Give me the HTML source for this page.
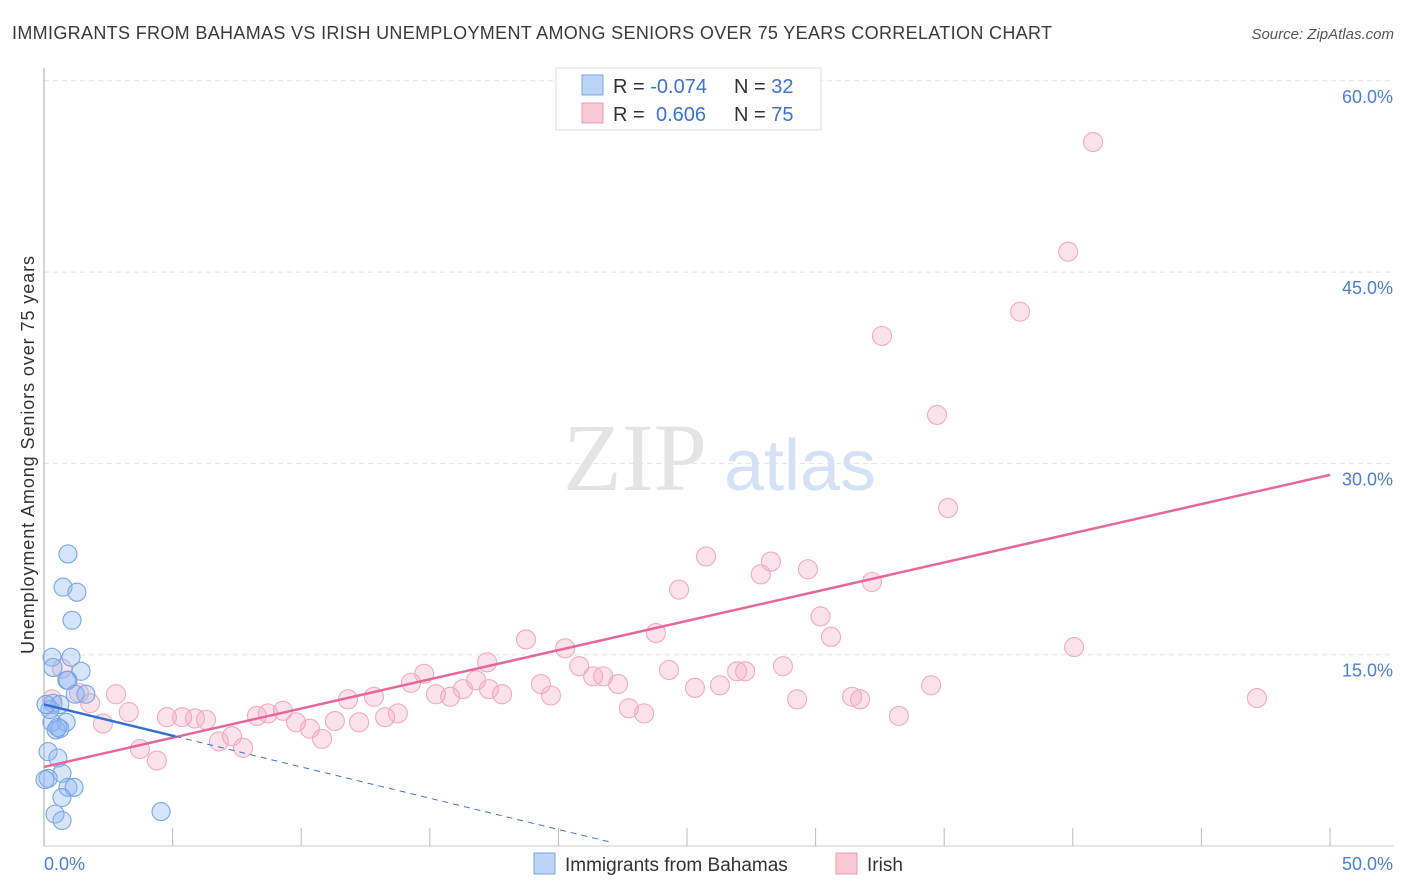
<!DOCTYPE html>
<html><head><meta charset="utf-8"><style>
body{margin:0;background:#fff;font-family:"Liberation Sans",sans-serif;}
svg{display:block}
</style></head><body>
<svg width="1406" height="892" xmlns="http://www.w3.org/2000/svg">
<text x="12" y="39" font-size="18" fill="#3a3a3a" textLength="1040" lengthAdjust="spacing">IMMIGRANTS FROM BAHAMAS VS IRISH UNEMPLOYMENT AMONG SENIORS OVER 75 YEARS CORRELATION CHART</text>
<text x="1394" y="39" font-size="15" fill="#555" font-style="italic" text-anchor="end">Source: ZipAtlas.com</text>
<g id="grid"></g>
<g><text x="635" y="490" font-size="96" fill="#e4e4e4" font-family="Liberation Serif" text-anchor="middle">ZIP</text><text x="800" y="490" font-size="72" fill="#d5e2f5" text-anchor="middle">atlas</text></g>
<line x1="44" y1="68" x2="44" y2="846" stroke="#aaa"/>
<line x1="44" y1="846" x2="1394" y2="846" stroke="#ccc"/>
<g id="xticks"></g>
<g id="ylabels"></g>
<text x="44" y="870" font-size="18" fill="#4a7fd4">0.0%</text>
<text x="1393" y="870" font-size="18" fill="#4a7fd4" text-anchor="end">50.0%</text>
<text transform="translate(34,455) rotate(-90)" font-size="18" fill="#333" text-anchor="middle" textLength="398" lengthAdjust="spacing">Unemployment Among Seniors over 75 years</text>
<g id="pink"></g>
<g id="blue"></g>
<g id="trends"></g>
<g>
<rect x="556" y="68" width="265" height="62" fill="#fff" stroke="#ddd"/>
<rect x="582" y="75" width="21" height="20" fill="#bcd4f6" stroke="#7aa6e6"/>
<rect x="582" y="103" width="21" height="20" fill="#fbc8d6" stroke="#ef9ab3"/>
<text x="613" y="93" font-size="20" fill="#333">R = <tspan fill="#3b74d0">-0.074</tspan><tspan x="734">N = </tspan><tspan fill="#3b74d0">32</tspan></text>
<text x="613" y="121" font-size="20" fill="#333">R = <tspan x="656" fill="#3b74d0">0.606</tspan><tspan x="734">N = </tspan><tspan fill="#3b74d0">75</tspan></text>
</g>
<g>
<rect x="534" y="853" width="21" height="21" fill="#bcd4f6" stroke="#7aa6e6"/>
<text x="565" y="871" font-size="19" fill="#333">Immigrants from Bahamas</text>
<rect x="836" y="853" width="21" height="21" fill="#fbc8d6" stroke="#ef9ab3"/>
<text x="867" y="871" font-size="19" fill="#333">Irish</text>
</g>
</svg>
<script>
const yTicks=[15,30,45,60];
const yTickLabels=["15.0%","30.0%","45.0%","60.0%"];
const xTicks=[5,10,15,20,25,30,35,40,45,50];
const blueX=[0.93,0.74,1.28,1.09,0.31,1.05,0.35,1.44,0.93,0.89,1.21,1.63,0.35,0.62,0.31,0.86,0.47,0.62,0.16,0.54,0.70,0.16,0.93,1.17,0.70,0.43,0.70,4.55,0.23,0.08,0.54,0.04];
const blueY=[22.9,20.3,19.9,17.7,14.8,14.8,14.0,13.7,13.0,13.0,11.9,11.9,11.2,11.1,9.7,9.7,9.1,9.2,7.4,6.9,5.7,5.3,4.6,4.6,3.8,2.5,2.0,2.7,10.7,11.1,9.3,5.2];
const pinkX=[40.79,39.82,37.95,32.58,34.72,35.15,25.74,28.26,27.87,29.70,32.19,24.69,30.19,18.74,30.60,23.79,20.26,40.05,17.23,20.81,28.73,24.3,26.95,27.26,14.78,21.35,21.74,16.8,14.27,19.32,22.32,16.29,17.30,26.28,25.31,34.49,15.24,15.79,17.81,19.71,12.83,11.82,31.42,31.73,29.28,47.16,22.74,23.33,2.80,1.79,0.31,0.70,1.36,3.30,13.76,13.26,9.29,8.71,8.28,33.24,4.78,5.37,5.87,6.30,9.80,11.31,12.25,10.34,2.29,7.31,6.80,10.81,7.74,3.73,4.39];
const pinkY=[55.2,46.6,41.9,40.0,33.8,26.5,22.7,22.3,21.3,21.7,20.7,20.1,18.0,16.2,16.4,16.7,15.5,15.6,14.4,14.1,14.1,13.8,13.7,13.7,13.5,13.3,13.3,13.0,12.8,12.7,12.7,12.3,12.3,12.6,12.4,12.6,11.9,11.7,11.9,11.8,11.7,11.5,11.7,11.5,11.5,11.6,10.8,10.4,11.9,11.2,11.5,13.9,12.0,10.5,10.4,10.1,10.6,10.4,10.2,10.2,10.1,10.1,10.0,9.9,9.7,9.8,9.7,9.2,9.6,8.6,8.2,8.4,7.7,7.6,6.7];
const pinkTrend=[6.2,29.1];
const blueTrend=[11.1,8.6,5.1,22];
const NS="http://www.w3.org/2000/svg";
const xs=v=>44+v/50*1286, ys=v=>846-v/15*191.3;
function mk(t,a,p){const e=document.createElementNS(NS,t);for(const k in a)e.setAttribute(k,a[k]);p.appendChild(e);return e;}
const grid=document.getElementById('grid'),yl=document.getElementById('ylabels'),xt=document.getElementById('xticks');
yTicks.forEach((v,i)=>{
 const l=mk('line',{x1:44,x2:1394,y1:ys(v),y2:ys(v),stroke:'#e2e2e2','stroke-dasharray':'5,4'},grid);
 
 
 const t=mk('text',{x:1393,y:ys(v)+22,'font-size':18,fill:'#4a7fd4','text-anchor':'end'},yl);
 t.textContent=yTickLabels[i];
 
 
});
xTicks.forEach(v=>{
 const l=mk('line',{x1:xs(v),x2:xs(v),y1:828,y2:846,stroke:'#bbb'},xt);
 
 
});
const pg=document.getElementById('pink');
pinkX.forEach((x,i)=>{
 const c=mk('circle',{cx:xs(x),cy:ys(pinkY[i]),r:9.5,fill:'rgba(246,168,192,0.32)',stroke:'#f2a9bf','stroke-width':1.1},pg);
 
 
});
const bg=document.getElementById('blue');
blueX.forEach((x,i)=>{
 const c=mk('circle',{cx:xs(x),cy:ys(blueY[i]),r:9,fill:'rgba(140,180,240,0.35)',stroke:'#78a6e8','stroke-width':1.1},bg);
 
 
});
const tg=document.getElementById('trends');
const slope=(blueTrend[1]-blueTrend[0])/blueTrend[2];
const l1=mk('line',{x1:xs(0),y1:ys(pinkTrend[0]),x2:xs(50),y2:ys(pinkTrend[1]),stroke:'#e8679a','stroke-width':2.5},tg);


const l2=mk('line',{x1:xs(blueTrend[2]),y1:ys(blueTrend[1]),x2:xs(blueTrend[3]),y2:ys(blueTrend[0]+slope*blueTrend[3]),stroke:'#3b74d0','stroke-width':1,'stroke-dasharray':'6,5'},tg);


const l3=mk('line',{x1:xs(0),y1:ys(blueTrend[0]),x2:xs(blueTrend[2]),y2:ys(blueTrend[1]),stroke:'#2f6fd6','stroke-width':2.5},tg);


</script>
</body></html>
